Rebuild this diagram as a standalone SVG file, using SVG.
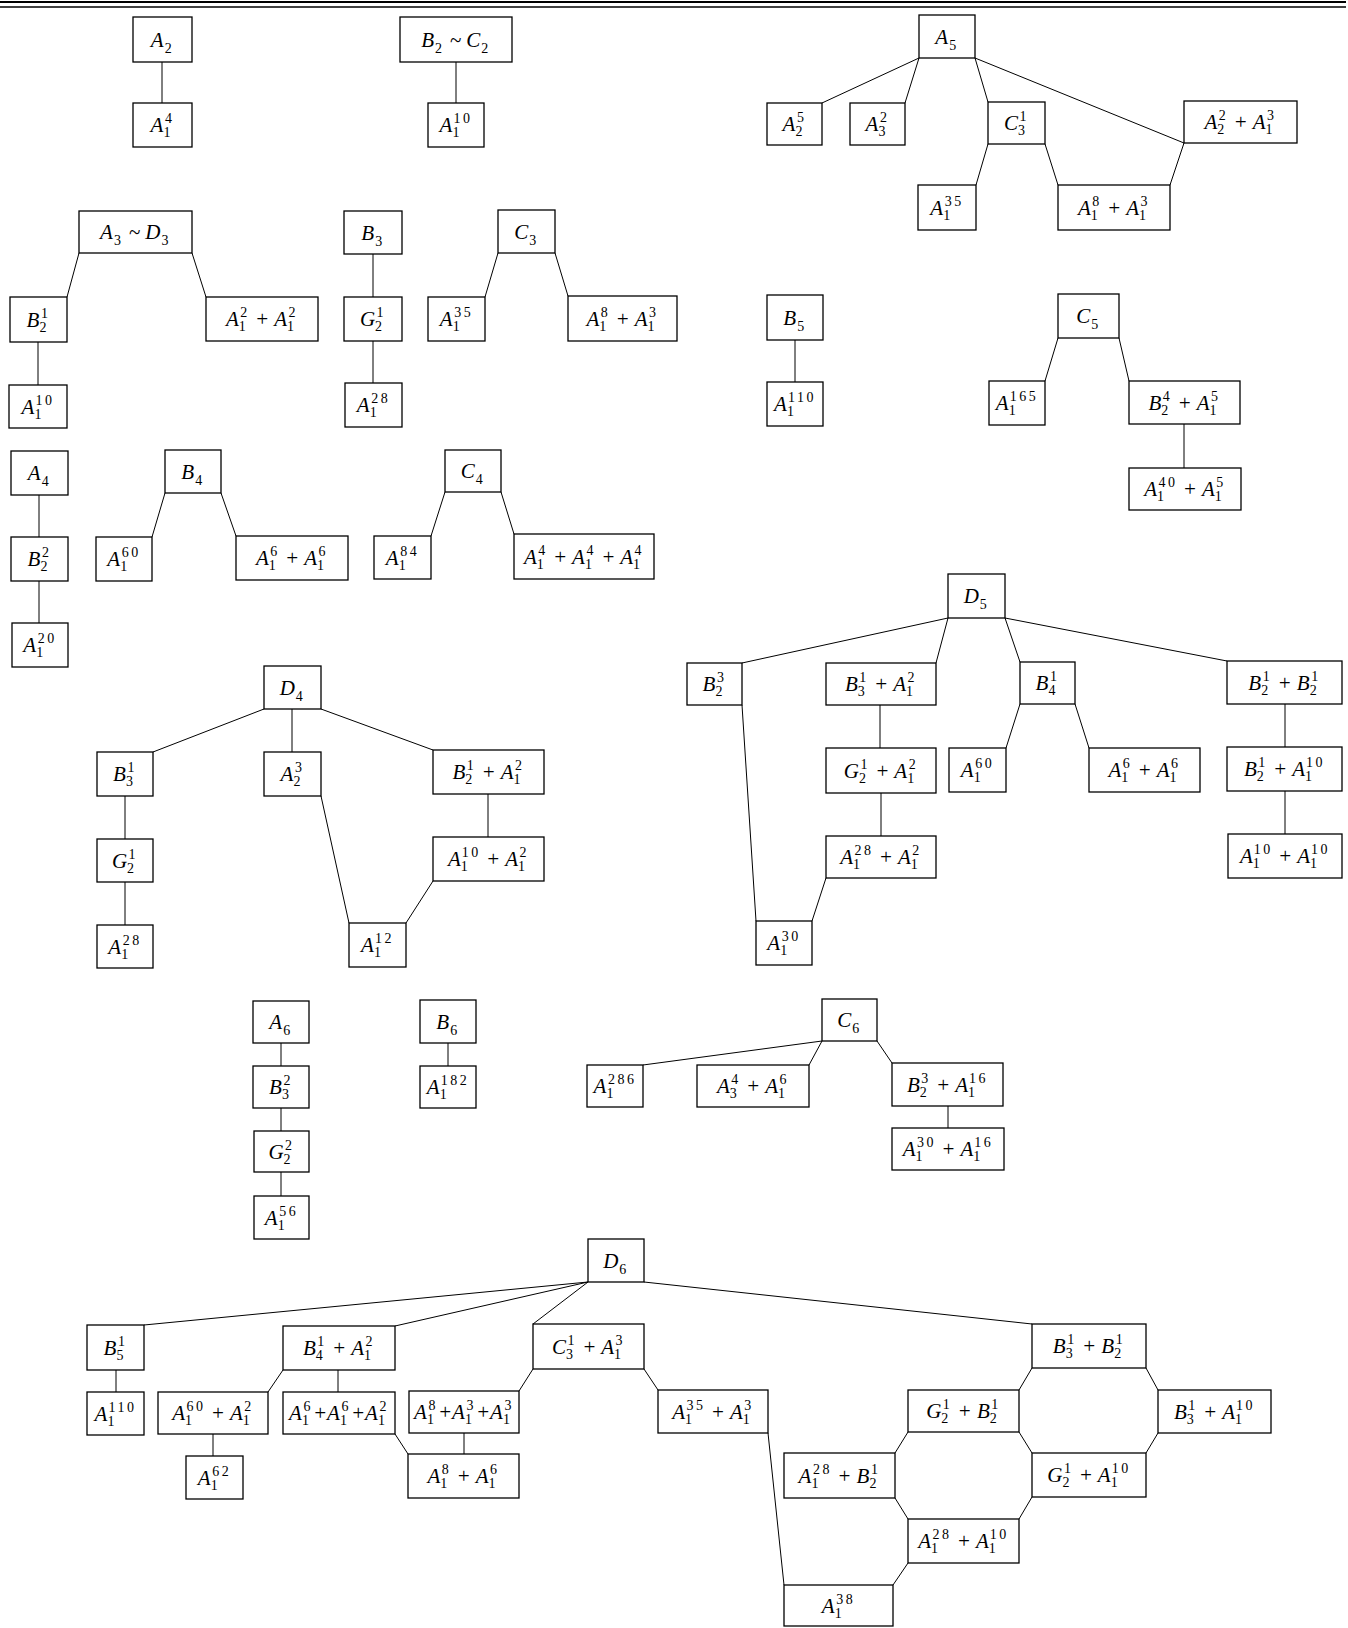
<svg xmlns="http://www.w3.org/2000/svg" width="1348" height="1628" viewBox="0 0 1348 1628">
<style>
.n rect{fill:#fff;stroke:#000;stroke-width:1.3}
text{font-family:"Liberation Serif","Times New Roman",serif;font-size:21px;font-style:italic;text-anchor:middle;fill:#000}
.d{font-size:14px;font-style:normal;letter-spacing:2.5px}
#edges line{stroke:#000;stroke-width:1}
#rule line{stroke:#000}
</style>
<rect width="1348" height="1628" fill="#fff"/>
<g id="rule"><line x1="0" y1="2" x2="1346" y2="2" stroke-width="2"/><line x1="0" y1="7" x2="1346" y2="7" stroke-width="1.3"/></g>
<g id="edges">
<line x1="162" y1="62" x2="162" y2="103"/>
<line x1="456" y1="62" x2="456" y2="103"/>
<line x1="919" y1="58" x2="822" y2="103"/>
<line x1="919" y1="58" x2="905" y2="103"/>
<line x1="975" y1="58" x2="988" y2="102"/>
<line x1="975" y1="58" x2="1184" y2="143"/>
<line x1="1184" y1="143" x2="1170" y2="185"/>
<line x1="988" y1="144" x2="976" y2="185"/>
<line x1="1045" y1="144" x2="1058" y2="185"/>
<line x1="79" y1="253" x2="67" y2="297"/>
<line x1="192" y1="253" x2="206" y2="297"/>
<line x1="38" y1="342" x2="38" y2="385"/>
<line x1="373" y1="254" x2="373" y2="297"/>
<line x1="373" y1="341" x2="373" y2="383"/>
<line x1="498" y1="253" x2="485" y2="297"/>
<line x1="555" y1="253" x2="568" y2="296"/>
<line x1="795" y1="340" x2="795" y2="382"/>
<line x1="1058" y1="338" x2="1045" y2="381"/>
<line x1="1119" y1="338" x2="1129" y2="381"/>
<line x1="1184" y1="424" x2="1184" y2="468"/>
<line x1="39" y1="495" x2="39" y2="537"/>
<line x1="39" y1="581" x2="39" y2="623"/>
<line x1="165" y1="493" x2="152" y2="537"/>
<line x1="221" y1="493" x2="236" y2="536"/>
<line x1="445" y1="492" x2="431" y2="536"/>
<line x1="501" y1="492" x2="514" y2="534"/>
<line x1="264" y1="709" x2="153" y2="752"/>
<line x1="292" y1="709" x2="292" y2="752"/>
<line x1="321" y1="709" x2="433" y2="750"/>
<line x1="125" y1="796" x2="125" y2="839"/>
<line x1="125" y1="882" x2="125" y2="925"/>
<line x1="321" y1="796" x2="349" y2="923"/>
<line x1="488" y1="794" x2="488" y2="837"/>
<line x1="433" y1="881" x2="406" y2="923"/>
<line x1="948" y1="618" x2="742" y2="663"/>
<line x1="948" y1="618" x2="936" y2="663"/>
<line x1="1005" y1="618" x2="1020" y2="662"/>
<line x1="1005" y1="618" x2="1227" y2="661"/>
<line x1="880" y1="705" x2="880" y2="748"/>
<line x1="1020" y1="704" x2="1006" y2="748"/>
<line x1="1075" y1="704" x2="1089" y2="748"/>
<line x1="1285" y1="704" x2="1285" y2="747"/>
<line x1="1285" y1="791" x2="1285" y2="834"/>
<line x1="881" y1="793" x2="881" y2="836"/>
<line x1="742" y1="705" x2="756" y2="921"/>
<line x1="826" y1="878" x2="812" y2="921"/>
<line x1="281" y1="1043" x2="281" y2="1066"/>
<line x1="281" y1="1108" x2="281" y2="1131"/>
<line x1="281" y1="1172" x2="281" y2="1196"/>
<line x1="448" y1="1043" x2="448" y2="1066"/>
<line x1="822" y1="1041" x2="643" y2="1065"/>
<line x1="822" y1="1041" x2="809" y2="1065"/>
<line x1="877" y1="1041" x2="892" y2="1063"/>
<line x1="948" y1="1106" x2="948" y2="1128"/>
<line x1="588" y1="1282" x2="144" y2="1325"/>
<line x1="588" y1="1282" x2="395" y2="1326"/>
<line x1="588" y1="1282" x2="533" y2="1324"/>
<line x1="644" y1="1282" x2="1032" y2="1324"/>
<line x1="116" y1="1370" x2="116" y2="1392"/>
<line x1="283" y1="1370" x2="268" y2="1392"/>
<line x1="338" y1="1370" x2="338" y2="1392"/>
<line x1="213" y1="1434" x2="213" y2="1456"/>
<line x1="533" y1="1369" x2="519" y2="1391"/>
<line x1="644" y1="1369" x2="658" y2="1390"/>
<line x1="395" y1="1434" x2="408" y2="1454"/>
<line x1="464" y1="1433" x2="464" y2="1454"/>
<line x1="768" y1="1433" x2="784" y2="1585"/>
<line x1="1032" y1="1368" x2="1019" y2="1390"/>
<line x1="1146" y1="1368" x2="1158" y2="1390"/>
<line x1="908" y1="1432" x2="895" y2="1453"/>
<line x1="1019" y1="1432" x2="1032" y2="1453"/>
<line x1="1158" y1="1433" x2="1146" y2="1453"/>
<line x1="895" y1="1498" x2="908" y2="1519"/>
<line x1="1032" y1="1497" x2="1019" y2="1519"/>
<line x1="908" y1="1563" x2="893" y2="1585"/>
</g>
<g id="n1" class="n"><rect x="133" y="17" width="59" height="45"/><text x="162.5" y="46.5">A<tspan class="d" dx="1" dy="6">2</tspan></text></g>
<g id="n2" class="n"><rect x="133" y="103" width="59" height="44"/><text x="162.5" y="132">A<tspan class="d" dy="5">1</tspan><tspan class="d" dx="-8" dy="-14">4</tspan></text></g>
<g id="n3" class="n"><rect x="400" y="17" width="112" height="45"/><text x="456" y="46.5">B<tspan class="d" dx="1" dy="6">2</tspan><tspan dy="-6"> ~ C</tspan><tspan class="d" dx="1" dy="6">2</tspan></text></g>
<g id="n4" class="n"><rect x="428" y="103" width="56" height="44"/><text x="456" y="132">A<tspan class="d" dy="5">1</tspan><tspan class="d" dx="-8" dy="-14">10</tspan></text></g>
<g id="n5" class="n"><rect x="919" y="15" width="56" height="43"/><text x="947" y="43.5">A<tspan class="d" dx="1" dy="6">5</tspan></text></g>
<g id="n6" class="n"><rect x="767" y="103" width="55" height="42"/><text x="794.5" y="131">A<tspan class="d" dy="5">2</tspan><tspan class="d" dx="-8" dy="-14">5</tspan></text></g>
<g id="n7" class="n"><rect x="850" y="103" width="55" height="42"/><text x="877.5" y="131">A<tspan class="d" dy="5">3</tspan><tspan class="d" dx="-8" dy="-14">2</tspan></text></g>
<g id="n8" class="n"><rect x="988" y="102" width="57" height="42"/><text x="1016.5" y="130">C<tspan class="d" dy="5">3</tspan><tspan class="d" dx="-8" dy="-14">1</tspan></text></g>
<g id="n9" class="n"><rect x="1184" y="101" width="113" height="42"/><text x="1240.5" y="129">A<tspan class="d" dy="5">2</tspan><tspan class="d" dx="-8" dy="-14">2</tspan><tspan dy="9"> + </tspan>A<tspan class="d" dy="5">1</tspan><tspan class="d" dx="-8" dy="-14">3</tspan></text></g>
<g id="n10" class="n"><rect x="918" y="185" width="58" height="45"/><text x="947" y="214.5">A<tspan class="d" dy="5">1</tspan><tspan class="d" dx="-8" dy="-14">35</tspan></text></g>
<g id="n11" class="n"><rect x="1058" y="185" width="112" height="45"/><text x="1114" y="214.5">A<tspan class="d" dy="5">1</tspan><tspan class="d" dx="-8" dy="-14">8</tspan><tspan dy="9"> + </tspan>A<tspan class="d" dy="5">1</tspan><tspan class="d" dx="-8" dy="-14">3</tspan></text></g>
<g id="n12" class="n"><rect x="79" y="211" width="113" height="42"/><text x="135.5" y="239">A<tspan class="d" dx="1" dy="6">3</tspan><tspan dy="-6"> ~ D</tspan><tspan class="d" dx="1" dy="6">3</tspan></text></g>
<g id="n13" class="n"><rect x="10" y="297" width="57" height="45"/><text x="38.5" y="326.5">B<tspan class="d" dy="5">2</tspan><tspan class="d" dx="-8" dy="-14">1</tspan></text></g>
<g id="n14" class="n"><rect x="206" y="297" width="112" height="44"/><text x="262" y="326">A<tspan class="d" dy="5">1</tspan><tspan class="d" dx="-8" dy="-14">2</tspan><tspan dy="9"> + </tspan>A<tspan class="d" dy="5">1</tspan><tspan class="d" dx="-8" dy="-14">2</tspan></text></g>
<g id="n15" class="n"><rect x="9" y="385" width="58" height="43"/><text x="38" y="413.5">A<tspan class="d" dy="5">1</tspan><tspan class="d" dx="-8" dy="-14">10</tspan></text></g>
<g id="n16" class="n"><rect x="344" y="211" width="58" height="43"/><text x="373" y="239.5">B<tspan class="d" dx="1" dy="6">3</tspan></text></g>
<g id="n17" class="n"><rect x="344" y="297" width="58" height="44"/><text x="373" y="326">G<tspan class="d" dy="5">2</tspan><tspan class="d" dx="-8" dy="-14">1</tspan></text></g>
<g id="n18" class="n"><rect x="345" y="383" width="57" height="44"/><text x="373.5" y="412">A<tspan class="d" dy="5">1</tspan><tspan class="d" dx="-8" dy="-14">28</tspan></text></g>
<g id="n19" class="n"><rect x="498" y="210" width="57" height="43"/><text x="526.5" y="238.5">C<tspan class="d" dx="1" dy="6">3</tspan></text></g>
<g id="n20" class="n"><rect x="428" y="297" width="57" height="44"/><text x="456.5" y="326">A<tspan class="d" dy="5">1</tspan><tspan class="d" dx="-8" dy="-14">35</tspan></text></g>
<g id="n21" class="n"><rect x="568" y="296" width="109" height="45"/><text x="622.5" y="325.5">A<tspan class="d" dy="5">1</tspan><tspan class="d" dx="-8" dy="-14">8</tspan><tspan dy="9"> + </tspan>A<tspan class="d" dy="5">1</tspan><tspan class="d" dx="-8" dy="-14">3</tspan></text></g>
<g id="n22" class="n"><rect x="767" y="295" width="56" height="45"/><text x="795" y="324.5">B<tspan class="d" dx="1" dy="6">5</tspan></text></g>
<g id="n23" class="n"><rect x="767" y="382" width="56" height="44"/><text x="795" y="411">A<tspan class="d" dy="5">1</tspan><tspan class="d" dx="-8" dy="-14">110</tspan></text></g>
<g id="n24" class="n"><rect x="1058" y="294" width="61" height="44"/><text x="1088.5" y="323">C<tspan class="d" dx="1" dy="6">5</tspan></text></g>
<g id="n25" class="n"><rect x="989" y="381" width="56" height="44"/><text x="1017" y="410">A<tspan class="d" dy="5">1</tspan><tspan class="d" dx="-8" dy="-14">165</tspan></text></g>
<g id="n26" class="n"><rect x="1129" y="381" width="111" height="43"/><text x="1184.5" y="409.5">B<tspan class="d" dy="5">2</tspan><tspan class="d" dx="-8" dy="-14">4</tspan><tspan dy="9"> + </tspan>A<tspan class="d" dy="5">1</tspan><tspan class="d" dx="-8" dy="-14">5</tspan></text></g>
<g id="n27" class="n"><rect x="1129" y="468" width="112" height="42"/><text x="1185" y="496">A<tspan class="d" dy="5">1</tspan><tspan class="d" dx="-8" dy="-14">40</tspan><tspan dy="9"> + </tspan>A<tspan class="d" dy="5">1</tspan><tspan class="d" dx="-8" dy="-14">5</tspan></text></g>
<g id="n28" class="n"><rect x="11" y="451" width="57" height="44"/><text x="39.5" y="480">A<tspan class="d" dx="1" dy="6">4</tspan></text></g>
<g id="n29" class="n"><rect x="11" y="537" width="57" height="44"/><text x="39.5" y="566">B<tspan class="d" dy="5">2</tspan><tspan class="d" dx="-8" dy="-14">2</tspan></text></g>
<g id="n30" class="n"><rect x="12" y="623" width="56" height="44"/><text x="40" y="652">A<tspan class="d" dy="5">1</tspan><tspan class="d" dx="-8" dy="-14">20</tspan></text></g>
<g id="n31" class="n"><rect x="165" y="450" width="56" height="43"/><text x="193" y="478.5">B<tspan class="d" dx="1" dy="6">4</tspan></text></g>
<g id="n32" class="n"><rect x="96" y="537" width="56" height="44"/><text x="124" y="566">A<tspan class="d" dy="5">1</tspan><tspan class="d" dx="-8" dy="-14">60</tspan></text></g>
<g id="n33" class="n"><rect x="236" y="536" width="112" height="44"/><text x="292" y="565">A<tspan class="d" dy="5">1</tspan><tspan class="d" dx="-8" dy="-14">6</tspan><tspan dy="9"> + </tspan>A<tspan class="d" dy="5">1</tspan><tspan class="d" dx="-8" dy="-14">6</tspan></text></g>
<g id="n34" class="n"><rect x="445" y="450" width="56" height="42"/><text x="473" y="478">C<tspan class="d" dx="1" dy="6">4</tspan></text></g>
<g id="n35" class="n"><rect x="374" y="536" width="57" height="43"/><text x="402.5" y="564.5">A<tspan class="d" dy="5">1</tspan><tspan class="d" dx="-8" dy="-14">84</tspan></text></g>
<g id="n36" class="n"><rect x="514" y="534" width="140" height="45"/><text x="584" y="563.5">A<tspan class="d" dy="5">1</tspan><tspan class="d" dx="-8" dy="-14">4</tspan><tspan dy="9"> + </tspan>A<tspan class="d" dy="5">1</tspan><tspan class="d" dx="-8" dy="-14">4</tspan><tspan dy="9"> + </tspan>A<tspan class="d" dy="5">1</tspan><tspan class="d" dx="-8" dy="-14">4</tspan></text></g>
<g id="n37" class="n"><rect x="264" y="666" width="57" height="43"/><text x="292.5" y="694.5">D<tspan class="d" dx="1" dy="6">4</tspan></text></g>
<g id="n38" class="n"><rect x="97" y="752" width="56" height="44"/><text x="125" y="781">B<tspan class="d" dy="5">3</tspan><tspan class="d" dx="-8" dy="-14">1</tspan></text></g>
<g id="n39" class="n"><rect x="264" y="752" width="57" height="44"/><text x="292.5" y="781">A<tspan class="d" dy="5">2</tspan><tspan class="d" dx="-8" dy="-14">3</tspan></text></g>
<g id="n40" class="n"><rect x="433" y="750" width="111" height="44"/><text x="488.5" y="779">B<tspan class="d" dy="5">2</tspan><tspan class="d" dx="-8" dy="-14">1</tspan><tspan dy="9"> + </tspan>A<tspan class="d" dy="5">1</tspan><tspan class="d" dx="-8" dy="-14">2</tspan></text></g>
<g id="n41" class="n"><rect x="97" y="839" width="56" height="43"/><text x="125" y="867.5">G<tspan class="d" dy="5">2</tspan><tspan class="d" dx="-8" dy="-14">1</tspan></text></g>
<g id="n42" class="n"><rect x="97" y="925" width="56" height="43"/><text x="125" y="953.5">A<tspan class="d" dy="5">1</tspan><tspan class="d" dx="-8" dy="-14">28</tspan></text></g>
<g id="n43" class="n"><rect x="349" y="923" width="57" height="44"/><text x="377.5" y="952">A<tspan class="d" dy="5">1</tspan><tspan class="d" dx="-8" dy="-14">12</tspan></text></g>
<g id="n44" class="n"><rect x="433" y="837" width="111" height="44"/><text x="488.5" y="866">A<tspan class="d" dy="5">1</tspan><tspan class="d" dx="-8" dy="-14">10</tspan><tspan dy="9"> + </tspan>A<tspan class="d" dy="5">1</tspan><tspan class="d" dx="-8" dy="-14">2</tspan></text></g>
<g id="n45" class="n"><rect x="948" y="574" width="57" height="44"/><text x="976.5" y="603">D<tspan class="d" dx="1" dy="6">5</tspan></text></g>
<g id="n46" class="n"><rect x="687" y="663" width="55" height="42"/><text x="714.5" y="691">B<tspan class="d" dy="5">2</tspan><tspan class="d" dx="-8" dy="-14">3</tspan></text></g>
<g id="n47" class="n"><rect x="826" y="663" width="110" height="42"/><text x="881" y="691">B<tspan class="d" dy="5">3</tspan><tspan class="d" dx="-8" dy="-14">1</tspan><tspan dy="9"> + </tspan>A<tspan class="d" dy="5">1</tspan><tspan class="d" dx="-8" dy="-14">2</tspan></text></g>
<g id="n48" class="n"><rect x="1020" y="662" width="55" height="42"/><text x="1047.5" y="690">B<tspan class="d" dy="5">4</tspan><tspan class="d" dx="-8" dy="-14">1</tspan></text></g>
<g id="n49" class="n"><rect x="1227" y="661" width="115" height="43"/><text x="1284.5" y="689.5">B<tspan class="d" dy="5">2</tspan><tspan class="d" dx="-8" dy="-14">1</tspan><tspan dy="9"> + </tspan>B<tspan class="d" dy="5">2</tspan><tspan class="d" dx="-8" dy="-14">1</tspan></text></g>
<g id="n50" class="n"><rect x="826" y="748" width="110" height="45"/><text x="881" y="777.5">G<tspan class="d" dy="5">2</tspan><tspan class="d" dx="-8" dy="-14">1</tspan><tspan dy="9"> + </tspan>A<tspan class="d" dy="5">1</tspan><tspan class="d" dx="-8" dy="-14">2</tspan></text></g>
<g id="n51" class="n"><rect x="949" y="748" width="57" height="44"/><text x="977.5" y="777">A<tspan class="d" dy="5">1</tspan><tspan class="d" dx="-8" dy="-14">60</tspan></text></g>
<g id="n52" class="n"><rect x="1089" y="748" width="111" height="44"/><text x="1144.5" y="777">A<tspan class="d" dy="5">1</tspan><tspan class="d" dx="-8" dy="-14">6</tspan><tspan dy="9"> + </tspan>A<tspan class="d" dy="5">1</tspan><tspan class="d" dx="-8" dy="-14">6</tspan></text></g>
<g id="n53" class="n"><rect x="1227" y="747" width="115" height="44"/><text x="1284.5" y="776">B<tspan class="d" dy="5">2</tspan><tspan class="d" dx="-8" dy="-14">1</tspan><tspan dy="9"> + </tspan>A<tspan class="d" dy="5">1</tspan><tspan class="d" dx="-8" dy="-14">10</tspan></text></g>
<g id="n54" class="n"><rect x="826" y="836" width="110" height="42"/><text x="881" y="864">A<tspan class="d" dy="5">1</tspan><tspan class="d" dx="-8" dy="-14">28</tspan><tspan dy="9"> + </tspan>A<tspan class="d" dy="5">1</tspan><tspan class="d" dx="-8" dy="-14">2</tspan></text></g>
<g id="n55" class="n"><rect x="1228" y="834" width="114" height="44"/><text x="1285" y="863">A<tspan class="d" dy="5">1</tspan><tspan class="d" dx="-8" dy="-14">10</tspan><tspan dy="9"> + </tspan>A<tspan class="d" dy="5">1</tspan><tspan class="d" dx="-8" dy="-14">10</tspan></text></g>
<g id="n56" class="n"><rect x="756" y="921" width="56" height="44"/><text x="784" y="950">A<tspan class="d" dy="5">1</tspan><tspan class="d" dx="-8" dy="-14">30</tspan></text></g>
<g id="n57" class="n"><rect x="253" y="1001" width="56" height="42"/><text x="281" y="1029">A<tspan class="d" dx="1" dy="6">6</tspan></text></g>
<g id="n58" class="n"><rect x="253" y="1066" width="56" height="42"/><text x="281" y="1094">B<tspan class="d" dy="5">3</tspan><tspan class="d" dx="-8" dy="-14">2</tspan></text></g>
<g id="n59" class="n"><rect x="254" y="1131" width="55" height="41"/><text x="281.5" y="1158.5">G<tspan class="d" dy="5">2</tspan><tspan class="d" dx="-8" dy="-14">2</tspan></text></g>
<g id="n60" class="n"><rect x="254" y="1196" width="55" height="43"/><text x="281.5" y="1224.5">A<tspan class="d" dy="5">1</tspan><tspan class="d" dx="-8" dy="-14">56</tspan></text></g>
<g id="n61" class="n"><rect x="420" y="1000" width="56" height="43"/><text x="448" y="1028.5">B<tspan class="d" dx="1" dy="6">6</tspan></text></g>
<g id="n62" class="n"><rect x="420" y="1066" width="56" height="42"/><text x="448" y="1094">A<tspan class="d" dy="5">1</tspan><tspan class="d" dx="-8" dy="-14">182</tspan></text></g>
<g id="n63" class="n"><rect x="822" y="999" width="55" height="42"/><text x="849.5" y="1027">C<tspan class="d" dx="1" dy="6">6</tspan></text></g>
<g id="n64" class="n"><rect x="587" y="1065" width="56" height="42"/><text x="615" y="1093">A<tspan class="d" dy="5">1</tspan><tspan class="d" dx="-8" dy="-14">286</tspan></text></g>
<g id="n65" class="n"><rect x="697" y="1065" width="112" height="42"/><text x="753" y="1093">A<tspan class="d" dy="5">3</tspan><tspan class="d" dx="-8" dy="-14">4</tspan><tspan dy="9"> + </tspan>A<tspan class="d" dy="5">1</tspan><tspan class="d" dx="-8" dy="-14">6</tspan></text></g>
<g id="n66" class="n"><rect x="892" y="1063" width="111" height="43"/><text x="947.5" y="1091.5">B<tspan class="d" dy="5">2</tspan><tspan class="d" dx="-8" dy="-14">3</tspan><tspan dy="9"> + </tspan>A<tspan class="d" dy="5">1</tspan><tspan class="d" dx="-8" dy="-14">16</tspan></text></g>
<g id="n67" class="n"><rect x="892" y="1128" width="112" height="42"/><text x="948" y="1156">A<tspan class="d" dy="5">1</tspan><tspan class="d" dx="-8" dy="-14">30</tspan><tspan dy="9"> + </tspan>A<tspan class="d" dy="5">1</tspan><tspan class="d" dx="-8" dy="-14">16</tspan></text></g>
<g id="n68" class="n"><rect x="588" y="1239" width="56" height="43"/><text x="616" y="1267.5">D<tspan class="d" dx="1" dy="6">6</tspan></text></g>
<g id="n69" class="n"><rect x="87" y="1325" width="57" height="45"/><text x="115.5" y="1354.5">B<tspan class="d" dy="5">5</tspan><tspan class="d" dx="-8" dy="-14">1</tspan></text></g>
<g id="n70" class="n"><rect x="283" y="1326" width="112" height="44"/><text x="339" y="1355">B<tspan class="d" dy="5">4</tspan><tspan class="d" dx="-8" dy="-14">1</tspan><tspan dy="9"> + </tspan>A<tspan class="d" dy="5">1</tspan><tspan class="d" dx="-8" dy="-14">2</tspan></text></g>
<g id="n71" class="n"><rect x="533" y="1324" width="111" height="45"/><text x="588.5" y="1353.5">C<tspan class="d" dy="5">3</tspan><tspan class="d" dx="-8" dy="-14">1</tspan><tspan dy="9"> + </tspan>A<tspan class="d" dy="5">1</tspan><tspan class="d" dx="-8" dy="-14">3</tspan></text></g>
<g id="n72" class="n"><rect x="1032" y="1324" width="114" height="44"/><text x="1089" y="1353">B<tspan class="d" dy="5">3</tspan><tspan class="d" dx="-8" dy="-14">1</tspan><tspan dy="9"> + </tspan>B<tspan class="d" dy="5">2</tspan><tspan class="d" dx="-8" dy="-14">1</tspan></text></g>
<g id="n73" class="n"><rect x="87" y="1392" width="57" height="43"/><text x="115.5" y="1420.5">A<tspan class="d" dy="5">1</tspan><tspan class="d" dx="-8" dy="-14">110</tspan></text></g>
<g id="n74" class="n"><rect x="158" y="1392" width="110" height="42"/><text x="213" y="1420">A<tspan class="d" dy="5">1</tspan><tspan class="d" dx="-8" dy="-14">60</tspan><tspan dy="9"> + </tspan>A<tspan class="d" dy="5">1</tspan><tspan class="d" dx="-8" dy="-14">2</tspan></text></g>
<g id="n75" class="n"><rect x="283" y="1392" width="112" height="42"/><text x="339" y="1420">A<tspan class="d" dy="5">1</tspan><tspan class="d" dx="-8" dy="-14">6</tspan><tspan dy="9">+</tspan>A<tspan class="d" dy="5">1</tspan><tspan class="d" dx="-8" dy="-14">6</tspan><tspan dy="9">+</tspan>A<tspan class="d" dy="5">1</tspan><tspan class="d" dx="-8" dy="-14">2</tspan></text></g>
<g id="n76" class="n"><rect x="186" y="1456" width="57" height="43"/><text x="214.5" y="1484.5">A<tspan class="d" dy="5">1</tspan><tspan class="d" dx="-8" dy="-14">62</tspan></text></g>
<g id="n77" class="n"><rect x="409" y="1391" width="110" height="42"/><text x="464" y="1419">A<tspan class="d" dy="5">1</tspan><tspan class="d" dx="-8" dy="-14">8</tspan><tspan dy="9">+</tspan>A<tspan class="d" dy="5">1</tspan><tspan class="d" dx="-8" dy="-14">3</tspan><tspan dy="9">+</tspan>A<tspan class="d" dy="5">1</tspan><tspan class="d" dx="-8" dy="-14">3</tspan></text></g>
<g id="n78" class="n"><rect x="408" y="1454" width="111" height="44"/><text x="463.5" y="1483">A<tspan class="d" dy="5">1</tspan><tspan class="d" dx="-8" dy="-14">8</tspan><tspan dy="9"> + </tspan>A<tspan class="d" dy="5">1</tspan><tspan class="d" dx="-8" dy="-14">6</tspan></text></g>
<g id="n79" class="n"><rect x="658" y="1390" width="110" height="43"/><text x="713" y="1418.5">A<tspan class="d" dy="5">1</tspan><tspan class="d" dx="-8" dy="-14">35</tspan><tspan dy="9"> + </tspan>A<tspan class="d" dy="5">1</tspan><tspan class="d" dx="-8" dy="-14">3</tspan></text></g>
<g id="n80" class="n"><rect x="784" y="1585" width="109" height="41"/><text x="838.5" y="1612.5">A<tspan class="d" dy="5">1</tspan><tspan class="d" dx="-8" dy="-14">38</tspan></text></g>
<g id="n81" class="n"><rect x="784" y="1453" width="111" height="45"/><text x="839.5" y="1482.5">A<tspan class="d" dy="5">1</tspan><tspan class="d" dx="-8" dy="-14">28</tspan><tspan dy="9"> + </tspan>B<tspan class="d" dy="5">2</tspan><tspan class="d" dx="-8" dy="-14">1</tspan></text></g>
<g id="n82" class="n"><rect x="908" y="1390" width="111" height="42"/><text x="963.5" y="1418">G<tspan class="d" dy="5">2</tspan><tspan class="d" dx="-8" dy="-14">1</tspan><tspan dy="9"> + </tspan>B<tspan class="d" dy="5">2</tspan><tspan class="d" dx="-8" dy="-14">1</tspan></text></g>
<g id="n83" class="n"><rect x="1158" y="1390" width="113" height="43"/><text x="1214.5" y="1418.5">B<tspan class="d" dy="5">3</tspan><tspan class="d" dx="-8" dy="-14">1</tspan><tspan dy="9"> + </tspan>A<tspan class="d" dy="5">1</tspan><tspan class="d" dx="-8" dy="-14">10</tspan></text></g>
<g id="n84" class="n"><rect x="1032" y="1453" width="114" height="44"/><text x="1089" y="1482">G<tspan class="d" dy="5">2</tspan><tspan class="d" dx="-8" dy="-14">1</tspan><tspan dy="9"> + </tspan>A<tspan class="d" dy="5">1</tspan><tspan class="d" dx="-8" dy="-14">10</tspan></text></g>
<g id="n85" class="n"><rect x="908" y="1519" width="111" height="44"/><text x="963.5" y="1548">A<tspan class="d" dy="5">1</tspan><tspan class="d" dx="-8" dy="-14">28</tspan><tspan dy="9"> + </tspan>A<tspan class="d" dy="5">1</tspan><tspan class="d" dx="-8" dy="-14">10</tspan></text></g>
</svg>
